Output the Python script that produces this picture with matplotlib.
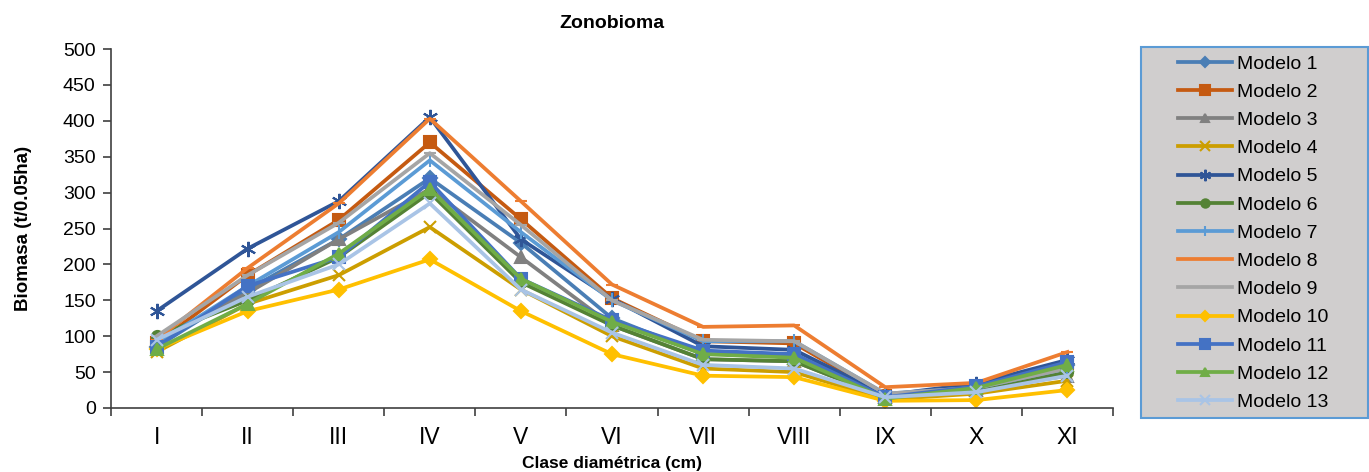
import matplotlib
matplotlib.use('Agg')
import matplotlib.pyplot as plt
from matplotlib.patches import Rectangle
import numpy as np

plt.rcParams['font.family'] = ['Liberation Sans', 'DejaVu Sans']

# categorias (clase diametrica)
clases = ['I', 'II', 'III', 'IV', 'V', 'VI', 'VII', 'VIII', 'IX', 'X', 'XI']

# biomasa por modelo (t/0.05ha)
modelo1 = [85, 165, 235, 320, 230, 125, 75, 75, 15, 25, 60]
modelo2 = [90, 185, 262, 370, 263, 153, 93, 90, 17, 28, 62]
modelo3 = [95, 160, 235, 305, 210, 115, 68, 65, 15, 25, 45]
modelo4 = [78, 145, 185, 252, 165, 100, 55, 50, 12, 20, 38]
modelo5 = [135, 222, 288, 405, 235, 152, 86, 81, 18, 34, 67]
modelo6 = [100, 150, 210, 300, 175, 115, 68, 65, 15, 25, 50]
modelo7 = [90, 170, 245, 345, 245, 150, 93, 93, 20, 28, 55]
modelo8 = [95, 195, 285, 403, 288, 172, 113, 115, 29, 35, 78]
modelo9 = [100, 185, 258, 355, 255, 150, 95, 93, 20, 28, 55]
modelo10 = [82, 135, 165, 207, 135, 75, 45, 43, 10, 11, 25]
modelo11 = [85, 170, 210, 315, 180, 122, 80, 75, 15, 30, 64]
modelo12 = [82, 145, 215, 305, 180, 120, 75, 70, 13, 28, 60]
modelo13 = [95, 155, 200, 285, 165, 105, 60, 55, 15, 22, 45]

series = [modelo1, modelo2, modelo3, modelo4, modelo5, modelo6, modelo7,
          modelo8, modelo9, modelo10, modelo11, modelo12, modelo13]
nombres = ['Modelo %d' % (i + 1) for i in range(len(series))]

colores = ['#4A7EB5', '#C55A11', '#808080', '#CC9E00', '#2F5597', '#548235',
           '#5B9BD5', '#ED7D31', '#A5A5A5', '#FFC000', '#4472C4', '#70AD47',
           '#A9C4E6']
marcadores = ['D', 's', '^', 'x', (6, 2, 0), 'o', '|', '_', '_', 'D', 's', '^', 'x']
tam = [7, 9, 8, 9, 11, 8, 10, 8, 8, 7, 9, 8, 9]

fig = plt.figure(figsize=(13.69, 4.72), dpi=100)
ax = fig.add_axes([0.0811, 0.1356, 0.7319, 0.7605])

x = np.arange(len(clases))
for vals, nom, c, m, s in zip(series, nombres, colores, marcadores, tam):
    ax.plot(x, vals, color=c, lw=2.7, marker=m, markersize=s,
            markeredgewidth=1.5, markerfacecolor=c, markeredgecolor=c, label=nom)

ax.set_xlim(-0.5, len(clases) - 0.5)
ax.set_ylim(0, 500)
ax.set_yticks(np.arange(0, 501, 50))
ax.set_xticks(x)
ax.set_xticklabels(clases)
ax.set_xticks(np.arange(-0.5, len(clases), 1), minor=True)
ax.tick_params(axis='x', which='major', length=0, labelsize=16.5, pad=13)
ax.tick_params(axis='x', which='minor', length=6, width=1.2, color='#404040')
ax.tick_params(axis='y', length=6, width=1.2, color='#404040', labelsize=14, pad=5)

for lado in ['top', 'right']:
    ax.spines[lado].set_visible(False)
for lado in ['left', 'bottom']:
    ax.spines[lado].set_linewidth(1.2)
    ax.spines[lado].set_color('#404040')

ax.set_title('Zonobioma', fontsize=14, fontweight='bold', pad=15)
ax.set_ylabel('Biomasa (t/0.05ha)', fontsize=13.5, fontweight='bold', labelpad=22)
ax.set_xlabel('Clase diamétrica (cm)', fontsize=12.5, fontweight='bold', labelpad=5)

# caja de la leyenda
fig.patches.append(Rectangle((0.8335, 0.1144), 0.1658, 0.786, transform=fig.transFigure,
                             facecolor='#D0CECE', edgecolor='#5B9BD5', linewidth=1.5))
leg = fig.legend(loc='upper left', bbox_to_anchor=(1178 / 1369, 1 - 55 / 472), fontsize=14,
                 frameon=False, handlelength=2.8, handletextpad=0.25, markerscale=0.75,
                 labelspacing=0.545, borderpad=0, borderaxespad=0)

fig.savefig('out.png', dpi=100)
